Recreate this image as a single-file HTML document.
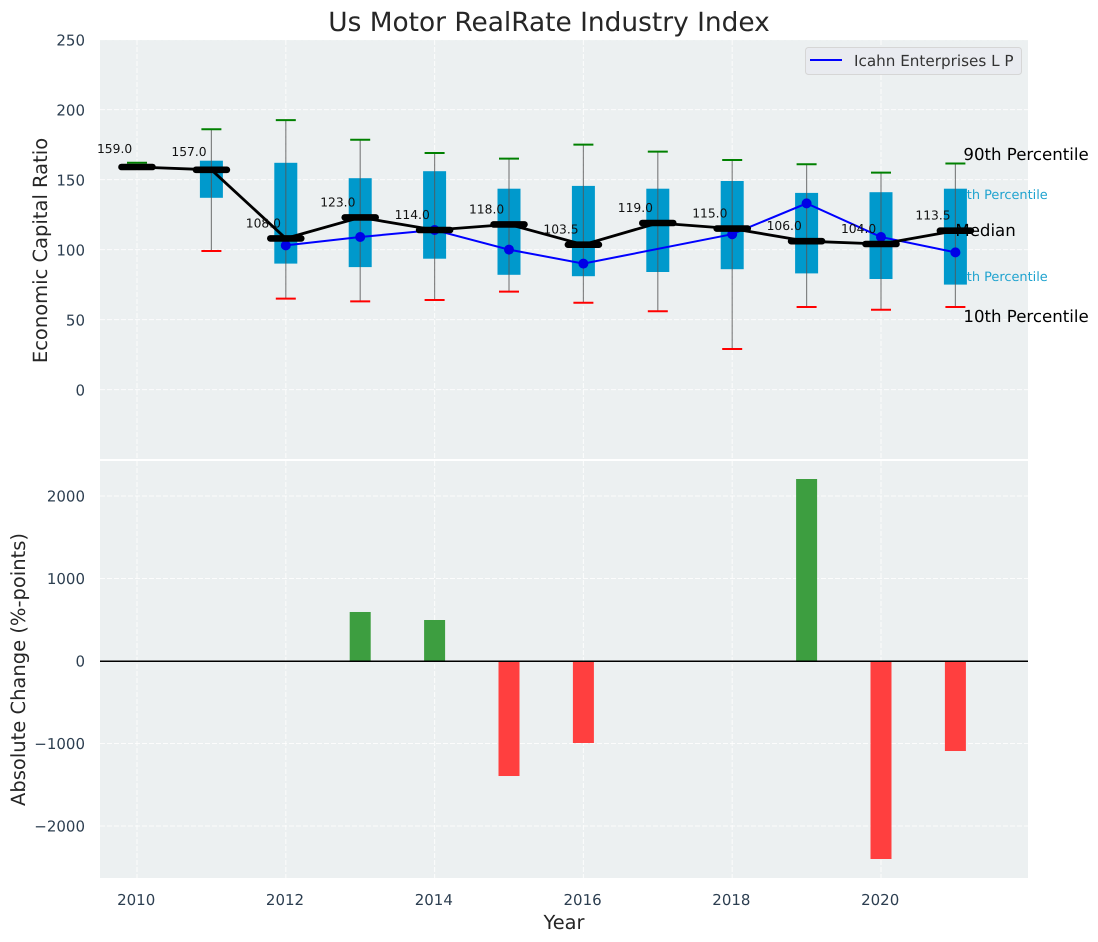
<!DOCTYPE html>
<html>
<head>
<meta charset="utf-8">
<title>Us Motor RealRate Industry Index</title>
<style>
html,body{margin:0;padding:0;background:#fff;}
svg{display:block;font-family:"DejaVu Sans","Liberation Sans",sans-serif;text-rendering:geometricPrecision;}
</style>
</head>
<body>
<svg id="chart" xmlns="http://www.w3.org/2000/svg" width="1098" height="942" viewBox="0 0 1098 942"></svg>
<script>
const years = [2010,2011,2012,2013,2014,2015,2016,2017,2018,2019,2020,2021];
const p90 = [162,186,192.5,178.5,169,165,175,170,164,161,155,161.5];
const p75 = [null,163.5,162,151,156,143.5,145.5,143.5,149,140.5,141,143.5];
const medians = [159,157,108,123,114,118,103.5,119,115,106,104,113.5];
const p25 = [null,137,90,87.5,93.5,82,81,84,86,83,79,75];
const p10 = [null,99,65,63,64,70,62,56,29,59,57,59];
const company = [null,null,103,109,114,100,90,null,111,133,109,98];
const changes = [null,null,null,594,497,-1394,-994,null,null,2206,-2400,-1091];
const xTicks = [2010,2012,2014,2016,2018,2020];
const upperTicks = [0,50,100,150,200,250];
const lowerTicks = [-2000,-1000,0,1000,2000];
const companyName = 'Icahn Enterprises L P';

const NS = 'http://www.w3.org/2000/svg';
const svg = document.getElementById('chart');
const L = 100, R = 1028, T1 = 40, B1 = 459, T2 = 460, B2 = 878;
const x = v => 137 + (v - 2010) * 74.4;
const y1 = v => 389.6 - v * 1.4;
const y2 = v => 661 - v * 0.0825;
const TICK = '#2c3e50';

function el(tag, attrs, text, name, interactable) {
  const n = document.createElementNS(NS, tag);
  for (const k in attrs) n.setAttribute(k, attrs[k]);
  if (text !== undefined && text !== null) n.textContent = text;
  
  
  svg.appendChild(n);
  return n;
}
const fmtTick = v => (v < 0 ? '\u2212' + Math.abs(v) : String(v));

/* panels */
el('rect',{x:L,y:T1,width:R-L,height:B1-T1,fill:'#ecf0f1'},null,'upper-panel-background',false);
el('rect',{x:L,y:T2+1,width:R-L,height:B2-T2-1,fill:'#ecf0f1'},null,'lower-panel-background',false);

/* grid */
const dash = {stroke:'#ffffff','stroke-width':1,'stroke-dasharray':'5 2',opacity:0.85};
xTicks.forEach(t => {
  el('line',Object.assign({x1:x(t),x2:x(t),y1:T1,y2:B1},dash),null,'upper-grid-vertical-'+t,false);
  el('line',Object.assign({x1:x(t),x2:x(t),y1:T2+1,y2:B2},dash),null,'lower-grid-vertical-'+t,false);
});
upperTicks.forEach(t => {
  el('line',Object.assign({x1:L,x2:R,y1:y1(t),y2:y1(t)},dash),null,'upper-grid-horizontal-'+t,false);
});
lowerTicks.forEach(t => {
  el('line',Object.assign({x1:L,x2:R,y1:y2(t),y2:y2(t)},dash),null,'lower-grid-horizontal-'+t,false);
});

/* tick labels */
upperTicks.forEach(t => {
  el('text',{x:85,y:y1(t)+6,'text-anchor':'end','font-size':15,fill:TICK},fmtTick(t),'upper-y-tick-'+t,false);
});
lowerTicks.forEach(t => {
  el('text',{x:85,y:y2(t)+5.5,'text-anchor':'end','font-size':15,fill:TICK},fmtTick(t),'lower-y-tick-'+t,false);
});
xTicks.forEach(t => {
  el('text',{x:x(t)-0.8,y:905,'text-anchor':'middle','font-size':15,fill:TICK},String(t),'x-tick-'+t,false);
});

/* titles */
el('text',{x:549,y:31,'text-anchor':'middle','font-size':26.4,fill:'#262626'},'Us Motor RealRate Industry Index','chart-title',false);
el('text',{x:564,y:929,'text-anchor':'middle','font-size':19.4,fill:'#262626'},'Year','x-axis-title',false);
el('text',{transform:'translate(47,250.5) rotate(-90)','text-anchor':'middle','font-size':19.5,fill:'#262626'},'Economic Capital Ratio','upper-y-axis-title',false);
el('text',{transform:'translate(25,669.5) rotate(-90)','text-anchor':'middle','font-size':19.5,fill:'#262626'},'Absolute Change (%-points)','lower-y-axis-title',false);

/* percentile text behind boxes */
const lastX = x(years[years.length-1]);
el('text',{x:lastX-5,y:199,'font-size':12.9,fill:'#1fa3cf'},'75th Percentile','p75-annotation',false);
el('text',{x:lastX-5,y:281,'font-size':12.9,fill:'#1fa3cf'},'25th Percentile','p25-annotation',false);

/* boxes */
years.forEach((yr,i) => {
  if (p75[i] === null || p25[i] === null) return;
  el('rect',{x:x(yr)-11.5,y:y1(p75[i]),width:23,height:y1(p25[i])-y1(p75[i]),fill:'#0099cc'},null,'iqr-box-'+yr,false);
});

/* whiskers */
years.forEach((yr,i) => {
  if (p10[i] !== null) {
    el('line',{x1:x(yr),x2:x(yr),y1:y1(p90[i]),y2:y1(p10[i]),stroke:'#555',opacity:0.7,'stroke-width':1.2},null,'whisker-'+yr,false);
    el('line',{x1:x(yr)-10,x2:x(yr)+10,y1:y1(p10[i]),y2:y1(p10[i]),stroke:'#ff0000','stroke-width':2},null,'p10-cap-'+yr,false);
  }
  el('line',{x1:x(yr)-10,x2:x(yr)+10,y1:y1(p90[i]),y2:y1(p90[i]),stroke:'#008000','stroke-width':2},null,'p90-cap-'+yr,false);
});

/* company line */
const companyPts = years.map((yr,i) => company[i] === null ? null : x(yr)+','+y1(company[i])).filter(Boolean).join(' ');
el('polyline',{points:companyPts,fill:'none',stroke:'#0000ff','stroke-width':2},null,'company-line',false);
years.forEach((yr,i) => {
  if (company[i] === null) return;
  el('circle',{cx:x(yr),cy:y1(company[i]),r:5,fill:'#0000e6'},null,'company-point-'+yr,false);
});

/* median line and caps */
el('polyline',{points:years.map((yr,i)=>x(yr)+','+y1(medians[i])).join(' '),fill:'none',stroke:'#000','stroke-width':2.8},null,'median-line',false);
years.forEach((yr,i) => {
  el('line',{x1:x(yr)-15.5,x2:x(yr)+15.5,y1:y1(medians[i]),y2:y1(medians[i]),stroke:'#000','stroke-width':6.6,'stroke-linecap':'round'},null,'median-cap-'+yr,false);
});
years.forEach((yr,i) => {
  const off = medians[i] > 150 ? 14 : 11;
  el('text',{x:x(yr)-22.4,y:y1(medians[i])-off,'text-anchor':'middle','font-size':12.3,fill:'#111'},medians[i].toFixed(1),'median-label-'+yr,false);
});

/* series annotations */
el('text',{x:lastX+8,y:160,'font-size':16.6,fill:'#000'},'90th Percentile','p90-annotation',false);
el('text',{x:lastX,y:236,'font-size':16.6,fill:'#000'},'Median','median-annotation',false);
el('text',{x:lastX+8,y:322,'font-size':16.6,fill:'#000'},'10th Percentile','p10-annotation',false);

/* legend */
el('rect',{x:805.5,y:47.5,width:216,height:27,rx:3,fill:'#e9ebf0',stroke:'#d6d6d6','stroke-width':1},null,'legend-box',false);
el('line',{x1:810,x2:842,y1:60,y2:60,stroke:'#0000ff','stroke-width':2},null,'legend-line',false);
el('text',{x:854,y:66,'font-size':15.2,fill:'#333'},companyName,'legend-entry',false);

/* bars */
years.forEach((yr,i) => {
  const v = changes[i];
  if (v === null) return;
  const top = Math.min(y2(v),y2(0)), h = Math.abs(y2(v)-y2(0));
  el('rect',{x:x(yr)-10.5,y:top,width:21,height:h,fill:v >= 0 ? '#3d9e40' : '#ff3f3f'},null,'change-bar-'+yr,false);
});
el('line',{x1:L,x2:R,y1:y2(0)+0.2,y2:y2(0)+0.2,stroke:'#000','stroke-width':1.5},null,'zero-line',false);
</script>
</body>
</html>
